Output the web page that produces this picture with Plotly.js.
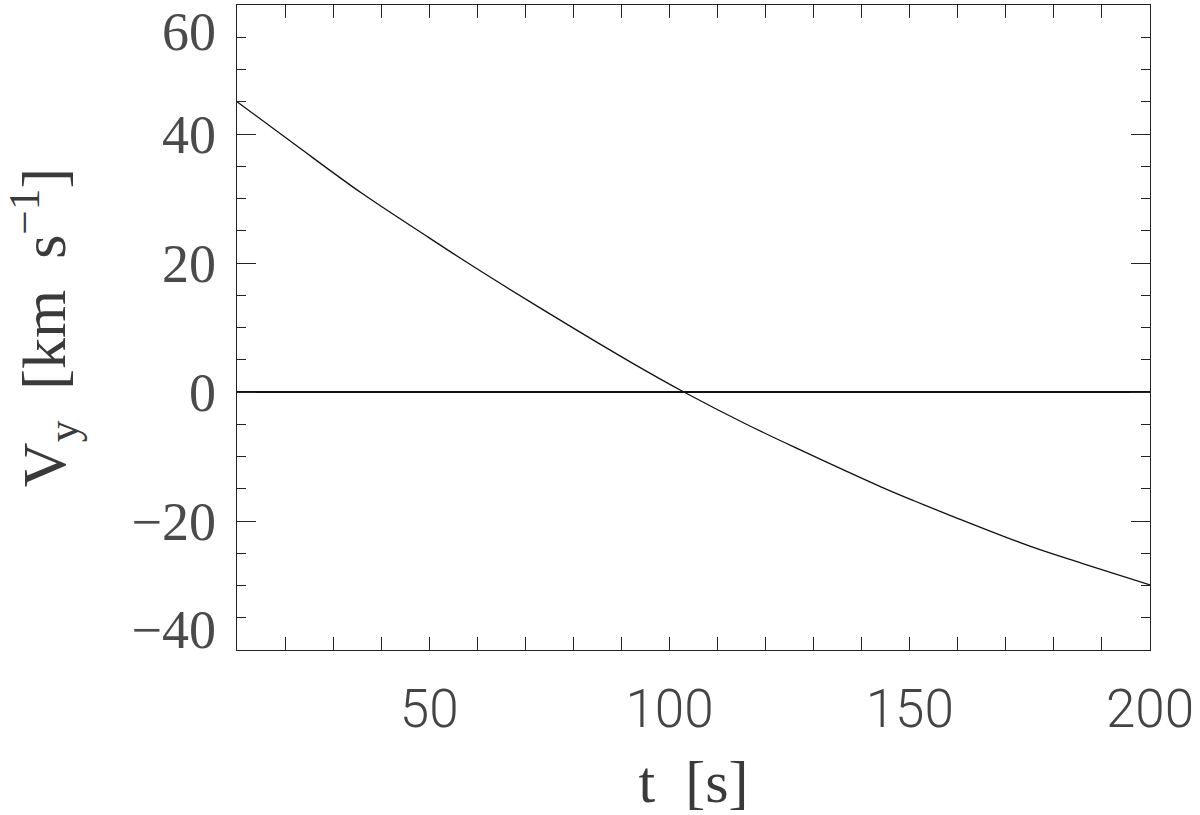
<!DOCTYPE html>
<html>
<head>
<meta charset="utf-8">
<script src="https://cdn.plot.ly/plotly-3.0.1.min.js"></script>
<style>html,body{margin:0;padding:0;background:#fff;}#chart{width:1200px;height:815px;}</style>
</head>
<body>
<div id="chart"></div>
<script>
// Data
const tValues  = [10, 22, 36, 50, 57, 64, 80, 92, 103, 116, 127, 144, 151, 158, 175, 186, 200];
const vyValues = [45.0, 38.4, 30.8, 23.9, 20.5, 17.2, 9.9, 4.6, 0.0, -5.0, -8.9, -14.7, -16.9, -19.0, -23.9, -26.6, -29.9];
const xTickVals = [50, 100, 150, 200];
const xTickText = ['50', '100', '150', '200'];
const yTickVals = [-40, -20, 0, 20, 40, 60];
const yTickText = ['\u221240', '\u221220', '0', '20', '40', '60'];

const xRange = [10, 200];
const yRange = [-40, 60];
// keep end labels inside the frame (label half-height in data units)
const padTop = 4.0, padBottom = 3.3;
const yLabelPos = yTickVals.map(v => Math.min(Math.max(v, yRange[0] + padBottom), yRange[1] - padTop));

const axisColor = '#222';

const traces = [{
  x: tValues, y: vyValues, type: 'scatter', mode: 'lines',
  line: {color: '#111', width: 1.3, shape: 'spline', smoothing: 1},
  hoverinfo: 'skip', showlegend: false
}, {
  // invisible point to activate the label axis
  x: [xRange[0]], y: [yRange[0]], yaxis: 'y2', type: 'scatter', mode: 'markers',
  marker: {opacity: 0}, hoverinfo: 'skip', showlegend: false
}];

const layout = {
  width: 1200, height: 815,
  margin: {l: 237, r: 50, t: 5, b: 165},
  paper_bgcolor: '#fff', plot_bgcolor: '#fff',
  showlegend: false,
  xaxis: {
    range: xRange, showgrid: false, zeroline: false,
    showline: true, linecolor: axisColor, linewidth: 1.3, mirror: 'allticks',
    ticks: 'inside', ticklen: 13, tickwidth: 1, tickcolor: axisColor,
    tickvals: xTickVals, ticktext: xTickText,
    minor: {dtick: 10, tick0: 0, ticks: 'inside', ticklen: 7, tickwidth: 1, tickcolor: axisColor, showgrid: false},
    tickfont: {family: 'Roboto, Liberation Sans, sans-serif', size: 53, color: '#444', weight: 300},
    ticklabelstandoff: 12,
    ticklabeloverflow: 'allow',
    title: {text: 't\u00A0 [s]', font: {family: 'Liberation Serif, serif', size: 60, color: '#3a3a3a'}, standoff: 22}
  },
  yaxis: {
    range: yRange, showgrid: false,
    zeroline: true, zerolinecolor: '#111', zerolinewidth: 1.2,
    showline: true, linecolor: axisColor, linewidth: 1.3, mirror: 'allticks',
    ticks: 'inside', ticklen: 19, tickwidth: 1, tickcolor: axisColor,
    tickvals: yTickVals, showticklabels: false,
    minor: {dtick: 5, tick0: 0, ticks: 'inside', ticklen: 9, tickwidth: 1, tickcolor: axisColor, showgrid: false},
    title: {text: 'V<sub>y</sub>\u00A0 [km\u00A0 s<sup>\u22121</sup>]', font: {family: 'Liberation Serif, serif', size: 62, color: '#3a3a3a'}, standoff: 166}
  },
  yaxis2: {
    overlaying: 'y', side: 'left', range: yRange,
    showgrid: false, zeroline: false, showline: false, ticks: '',
    tickvals: yLabelPos, ticktext: yTickText,
    tickfont: {family: 'Liberation Serif, serif', size: 54, color: '#4a4a4a'},
    ticklabelstandoff: 20,
    ticklabeloverflow: 'allow'
  }
};

Plotly.newPlot('chart', traces, layout, {staticPlot: true, displayModeBar: false});
</script>
</body>
</html>
